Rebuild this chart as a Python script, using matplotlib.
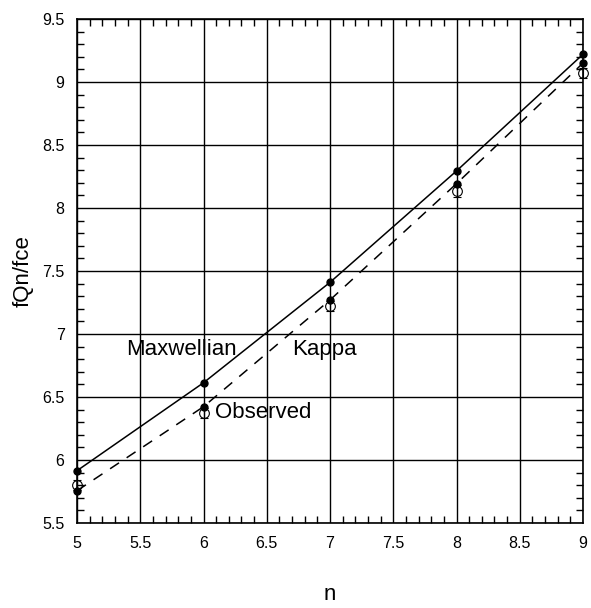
import matplotlib
matplotlib.use("Agg")
import matplotlib.pyplot as plt
from matplotlib.ticker import MultipleLocator

n = [5, 6, 7, 8, 9]
maxwellian = [5.915, 6.613, 7.41, 8.294, 9.22]
kappa = [5.756, 6.423, 7.27, 8.193, 9.15]
observed = [5.80, 6.37, 7.225, 8.135, 9.074]
obs_err = [0.04, 0.04, 0.04, 0.045, 0.04]

plt.rcParams['font.family'] = ['Liberation Sans', 'DejaVu Sans']
fig = plt.figure(figsize=(5.91, 6.08), dpi=100)
ax = fig.add_axes([0.1303, 0.1398, 0.8562, 0.829])

ax.plot(n, maxwellian, '-', color='black', lw=1.1, marker='o', ms=5, mfc='black', zorder=3, clip_on=False)
ax.plot(n, kappa, '--', color='black', lw=1.1, dashes=(7, 6), marker='o', ms=5, mfc='black', zorder=3, clip_on=False)
eb = ax.errorbar(n, observed, yerr=obs_err, fmt='o', ms=7, mfc='none', mec='black', mew=0.8,
                 ecolor='black', elinewidth=0.8, capsize=3, capthick=0.8, zorder=2)
for artist in eb.lines[0:1] + tuple(eb.lines[1]) + tuple(eb.lines[2]):
    if artist is not None:
        artist.set_clip_on(False)

ax.set_xlim(5, 9)
ax.set_ylim(5.5, 9.5)
ax.xaxis.set_minor_locator(MultipleLocator(0.1))
ax.yaxis.set_minor_locator(MultipleLocator(0.1))
ax.set_xticks([5, 5.5, 6, 6.5, 7, 7.5, 8, 8.5, 9])
ax.set_xticklabels(['5', '5.5', '6', '6.5', '7', '7.5', '8', '8.5', '9'])
ax.set_yticks([5.5, 6, 6.5, 7, 7.5, 8, 8.5, 9, 9.5])
ax.set_yticklabels(['5.5', '6', '6.5', '7', '7.5', '8', '8.5', '9', '9.5'])
ax.grid(True, which='major', color='black', lw=1.0)
ax.tick_params(which='major', direction='in', length=0, labelsize=11.5, pad=9)
ax.tick_params(which='minor', direction='in', length=5, width=1, top=True, right=True)
for s in ax.spines.values():
    s.set_linewidth(1.2)

ax.text(5.385, 6.88, 'Maxwellian', fontsize=16, va='center', ha='left')
ax.text(6.70, 6.88, 'Kappa', fontsize=16, va='center', ha='left')
ax.text(6.09, 6.38, 'Observed', fontsize=16, va='center', ha='left')

ax.set_xlabel('n', fontsize=16, labelpad=24)
ax.set_ylabel('fQn/fce', fontsize=16, labelpad=6)

fig.savefig('out.png', dpi=100)
